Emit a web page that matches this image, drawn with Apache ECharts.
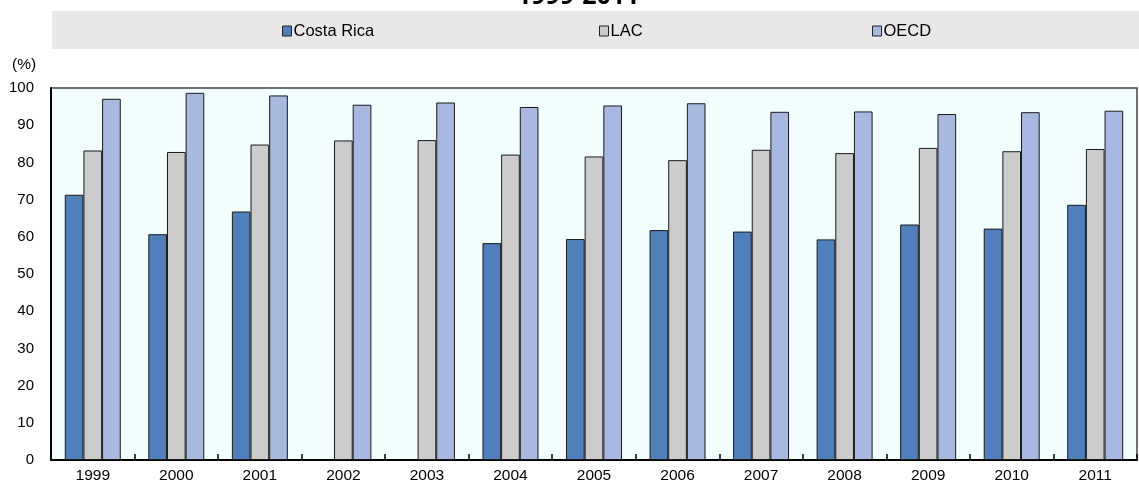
<!DOCTYPE html>
<html>
<head>
<meta charset="utf-8">
<script src="https://cdn.jsdelivr.net/npm/echarts@6/dist/echarts.min.js"></script>
<style>
  html, body { margin: 0; padding: 0; background: #ffffff; }
  #chart { width: 1139px; height: 484px; }
</style>
</head>
<body>
<div id="chart"></div>
<script>
// Years on the category axis
const years = ['1999', '2000', '2001', '2002', '2003', '2004', '2005', '2006', '2007', '2008', '2009', '2010', '2011'];

// Shares in percent; no Costa Rica figure for 2002 and 2003
const costaRica = [71.3, 60.7, 66.8, null, null, 58.3, 59.4, 61.8, 61.4, 59.3, 63.3, 62.2, 68.6];
const lac = [83.2, 82.8, 84.8, 85.9, 86.0, 82.1, 81.6, 80.6, 83.4, 82.5, 83.9, 83.0, 83.6];
const oecd = [97.1, 98.7, 98.0, 95.5, 96.1, 94.9, 95.3, 95.9, 93.6, 93.7, 93.0, 93.5, 93.9];

const seriesNames = ['Costa Rica', 'LAC', 'OECD'];
const seriesColors = ['#4f80bc', '#cccccc', '#a7b8e1'];

const FONT = "'Liberation Sans', Arial, sans-serif";

const chart = echarts.init(document.getElementById('chart'), null, { renderer: 'canvas' });

function legendFor(name, left) {
  return {
    data: [name],
    left: left,
    top: 21,
    padding: 0,
    icon: 'rect',
    itemWidth: 9,
    itemHeight: 10,
    itemGap: 0,
    selectedMode: false,
    itemStyle: { borderColor: '#222222', borderWidth: 1 },
    textStyle: { fontFamily: FONT, fontSize: 16.5, color: '#000000', padding: [0, 0, 0, -3], lineHeight: 20 }
  };
}

function barSeries(i, values) {
  return {
    name: seriesNames[i],
    type: 'bar',
    data: values,
    barGap: '0%',
    barCategoryGap: '33%',
    itemStyle: { color: seriesColors[i], borderColor: '#1a1a1a', borderWidth: 1 },
    emphasis: { disabled: true }
  };
}

chart.setOption({
  animation: false,
  title: {
    text: '1999-2011',
    left: 517,
    top: -16,
    padding: 0,
    textStyle: { fontFamily: "'Open Sans', sans-serif", fontWeight: 'bold', fontSize: 25, color: '#000000' }
  },
  graphic: [
    {
      type: 'rect',
      silent: true,
      z: -10,
      shape: { x: 52, y: 11, width: 1087, height: 38 },
      style: { fill: '#e8e8e8' }
    },
    {
      type: 'text',
      left: 12,
      top: 57,
      style: { text: '(%)', fontFamily: FONT, fontSize: 15.5, fill: '#000000' }
    }
  ],
  legend: [
    legendFor(seriesNames[0], 282),
    legendFor(seriesNames[1], 599),
    legendFor(seriesNames[2], 872)
  ],
  grid: {
    left: 51,
    right: 2,
    top: 88,
    bottom: 22,
    show: true,
    backgroundColor: '#f2fefe',
    borderColor: '#444444',
    borderWidth: 1.5
  },
  xAxis: {
    type: 'category',
    data: years,
    axisLine: { show: true, lineStyle: { color: '#000000', width: 2 } },
    axisTick: { show: true, inside: true, length: 6, interval: 0, lineStyle: { color: '#000000', width: 1.5 } },
    axisLabel: { interval: 0, margin: 8, fontFamily: FONT, fontSize: 15.5, color: '#000000' },
    splitLine: { show: false }
  },
  yAxis: {
    type: 'value',
    min: 0,
    max: 100,
    interval: 10,
    axisLine: { show: true, lineStyle: { color: '#000000', width: 2 } },
    axisTick: { show: false },
    axisLabel: { margin: 17, fontFamily: FONT, fontSize: 15, color: '#000000' },
    splitLine: { show: false }
  },
  series: [
    barSeries(0, costaRica),
    barSeries(1, lac),
    barSeries(2, oecd)
  ]
});
</script>
</body>
</html>
